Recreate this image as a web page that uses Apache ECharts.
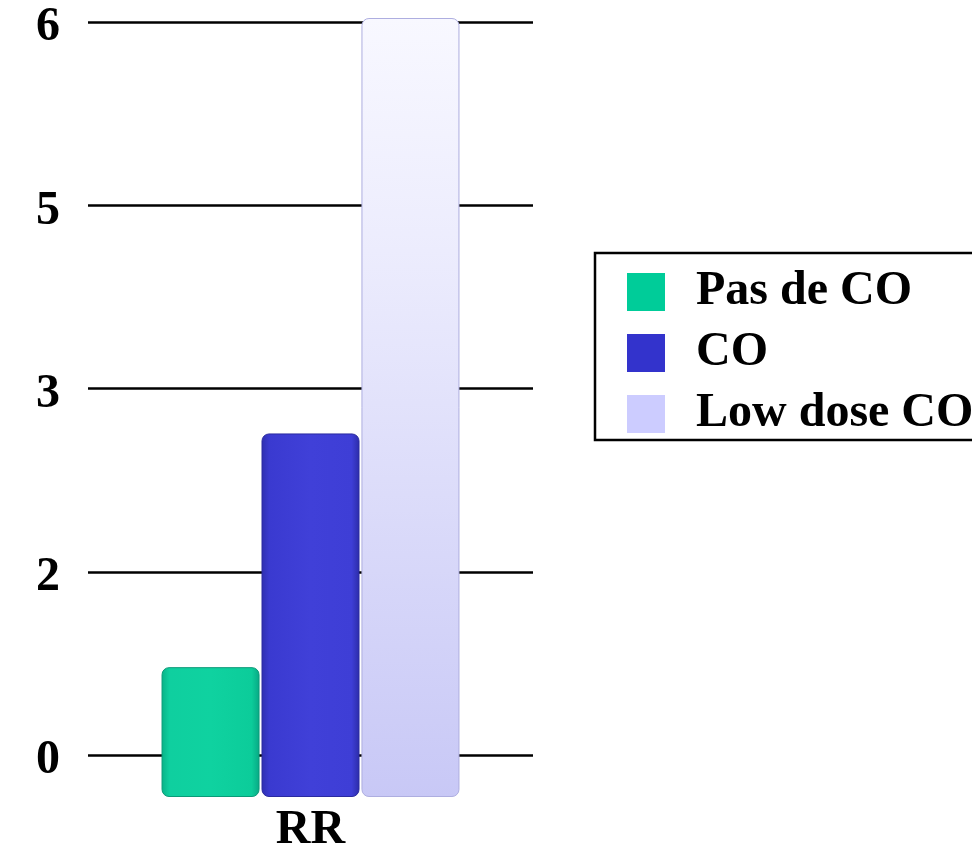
<!DOCTYPE html>
<html>
<head>
<meta charset="utf-8">
<script src="https://cdn.jsdelivr.net/npm/echarts@6/dist/echarts.min.js"></script>
<style>
  html, body { margin: 0; padding: 0; background: #fff; }
  #chart { width: 972px; height: 855px; }
</style>
</head>
<body>
<div id="chart"></div>
<script>
// Relative risk by exposure group
const categories = ['RR'];
const seriesNames = ['Pas de CO', 'CO', 'Low dose CO'];
const pasDeCO = [1];
const co = [2.8];
const lowDoseCO = [6];
// Axis ticks (labels shown rounded to whole numbers)
const yTicks = [0, 1.5, 3, 4.5, 6];

const legendColors = ['#00cc99', '#3333cc', '#ccccff'];
const font = '"Liberation Serif", "Times New Roman", serif';

function hGrad(stops) {
  return new echarts.graphic.LinearGradient(0, 0, 1, 0, stops);
}
function vGrad(stops) {
  return new echarts.graphic.LinearGradient(0, 0, 0, 1, stops);
}

const barStyles = [
  hGrad([
    { offset: 0, color: '#09b287' },
    { offset: 0.08, color: '#0fcf9f' },
    { offset: 0.5, color: '#0fd2a0' },
    { offset: 0.92, color: '#0ccc9a' },
    { offset: 1, color: '#08a884' }
  ]),
  hGrad([
    { offset: 0, color: '#2f2fb0' },
    { offset: 0.08, color: '#3a3ad0' },
    { offset: 0.5, color: '#4040d8' },
    { offset: 0.92, color: '#3e3ed6' },
    { offset: 1, color: '#2c2ca8' }
  ]),
  vGrad([
    { offset: 0, color: '#f8f8ff' },
    { offset: 0.3, color: '#ececfd' },
    { offset: 1, color: '#c8c8f6' }
  ])
];
const barBorders = ['#0a9a78', '#2a2aa0', '#aeaee0'];

const chart = echarts.init(document.getElementById('chart'), null, { renderer: 'canvas' });

const seriesData = [pasDeCO, co, lowDoseCO];

chart.setOption({
  animation: false,
  backgroundColor: '#ffffff',
  color: legendColors,
  grid: [
    // back wall: gridlines and value labels
    { left: 88, right: 439, top: 22, bottom: 100, containLabel: false },
    // front: bars and category label
    { left: 88, right: 439, top: 18, bottom: 54, containLabel: false }
  ],
  xAxis: [
    {
      gridIndex: 0, type: 'category', data: categories,
      show: false
    },
    {
      gridIndex: 1, type: 'category', data: categories,
      axisLine: { show: false }, axisTick: { show: false },
      axisLabel: {
        margin: 10, color: '#000',
        fontFamily: font, fontWeight: 'bold', fontSize: 48
      }
    }
  ],
  yAxis: [
    {
      gridIndex: 0, type: 'value', min: 0, max: 6, interval: 1.5,
      axisLine: { show: false }, axisTick: { show: false },
      splitLine: { show: true, lineStyle: { color: '#000', width: 2.5 } },
      axisLabel: {
        margin: 28, color: '#000',
        fontFamily: font, fontWeight: 'bold', fontSize: 48,
        verticalAlign: 'top', lineHeight: 12,
        formatter: v => yTicks.indexOf(v) >= 0 ? String(Math.round(v)) : ''
      }
    },
    {
      gridIndex: 1, type: 'value', min: 0, max: 6,
      show: false, splitLine: { show: false }
    }
  ],
  legend: {
    data: seriesNames.map((name, i) => ({
      name: name,
      itemStyle: { color: legendColors[i], borderWidth: 0 }
    })),
    orient: 'vertical',
    left: 595, top: 253,
    padding: [15, 40, 2, 32],
    backgroundColor: '#fff',
    borderColor: '#000', borderWidth: 2.5, borderRadius: 0,
    itemWidth: 38, itemHeight: 38, itemGap: 13,
    icon: 'rect',
    textStyle: {
      color: '#000', fontFamily: font, fontWeight: 'bold', fontSize: 48,
      lineHeight: 40, padding: [0, 0, 0, 26]
    }
  },
  series: seriesNames.map((name, i) => ({
    name: name,
    type: 'bar',
    xAxisIndex: 1, yAxisIndex: 1,
    data: seriesData[i],
    barWidth: 98,
    barGap: '2%',
    itemStyle: {
      color: barStyles[i],
      borderColor: barBorders[i],
      borderWidth: 1,
      borderRadius: 7
    }
  }))
});
</script>
</body>
</html>
